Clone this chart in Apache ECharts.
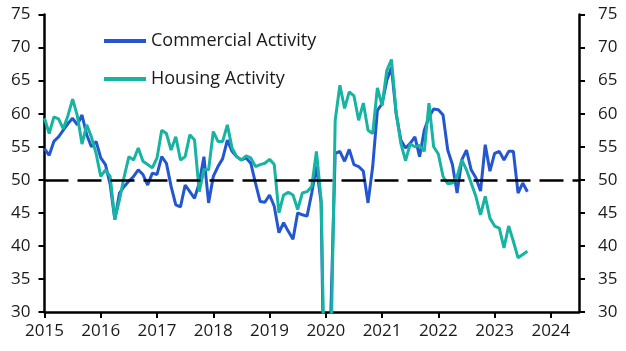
<!DOCTYPE html>
<html>
<head>
<meta charset="utf-8">
<script src="https://cdn.jsdelivr.net/npm/echarts@6/dist/echarts.min.js"></script>
<style>
  html, body { margin: 0; padding: 0; background: #fff; }
  #chart { width: 626px; height: 351px; }
</style>
</head>
<body>
<div id="chart"></div>
<script>
// monthly readings, Jan 2015 onwards
const START_YEAR = 2015;
const seriesNames = ["Commercial Activity", "Housing Activity"];

const commercial = [
  54.7, 53.7, 55.8, 56.5, 57.5, 58.5, 59.3, 58.3, 59.8, 56.8, 55.0, 55.8,
  53.3, 52.3, 49.3, 44.0, 48.0, 49.0, 49.8, 50.5, 51.5, 50.8, 49.2, 51.0,
  50.8, 53.5, 52.5, 49.0, 46.2, 45.9, 49.2, 48.2, 47.2, 49.5, 53.5, 46.5,
  50.5, 52.0, 53.2, 56.0, 54.3, 53.5, 53.0, 53.3, 52.5, 49.5, 46.7, 46.6,
  47.7, 46.0, 42.0, 43.5, 42.2, 41.0, 45.0, 44.7, 44.5, 48.0, 52.0, 46.5,
  0.0, 28.0, 54.0, 54.3, 52.8, 54.6, 52.3, 52.0, 51.3, 46.5, 52.0, 60.5,
  61.5, 65.0, 67.0, 60.0, 56.0, 54.8, 55.5, 56.5, 53.5, 57.5, 59.5, 60.7,
  60.6, 59.8, 54.5, 52.3, 48.0, 53.0, 54.5, 51.5, 50.3, 48.3, 55.3, 51.3,
  54.0, 54.3, 53.0, 54.3, 54.3, 48.0, 49.5, 48.2
];

const housing = [
  59.3, 57.0, 59.5, 59.2, 57.7, 59.7, 62.2, 59.7, 55.4, 58.3, 56.5, 54.0,
  50.5, 51.5, 50.5, 44.0, 47.0, 50.5, 53.5, 53.0, 54.8, 52.8, 52.3, 51.8,
  53.3, 57.5, 57.0, 54.5, 56.5, 53.0, 53.5, 56.8, 56.0, 48.2, 51.5, 51.5,
  57.3, 55.8, 55.8, 58.3, 54.8, 53.5, 53.0, 53.6, 53.3, 52.0, 52.3, 52.5,
  53.1, 52.3, 45.0, 47.7, 48.1, 47.7, 45.5, 48.0, 48.2, 49.0, 54.3, 47.0,
  9.0, 20.0, 59.0, 64.3, 60.8, 63.3, 62.7, 59.0, 61.6, 57.5, 57.0, 63.9,
  61.2, 66.5, 68.2, 60.2, 55.5, 52.9, 55.4, 55.0, 55.2, 54.3, 61.6, 55.0,
  53.9, 50.5, 49.4, 49.5, 50.5, 53.0, 51.5, 49.5, 47.5, 44.7, 47.5, 44.2,
  43.0, 42.7, 39.7, 43.0, 40.7, 38.2, 38.7, 39.2
];

const threshold = 50;

const FONT = "'Open Sans', sans-serif";
const TEXT_COLOR = "#1a1a1a";

const toPoints = (vals) => vals.map((v, i) => [START_YEAR + i / 12, v]);

const chart = echarts.init(document.getElementById("chart"), null, { renderer: "canvas" });

const yAxisBase = {
  type: "value",
  min: 30,
  max: 75,
  interval: 5,
  splitLine: { show: false },
  axisLine: { show: true, lineStyle: { color: "#000", width: 2.5 } },
  axisTick: { show: true, length: 6, lineStyle: { color: "#000", width: 2 } },
};

const option = {
  animation: false,
  backgroundColor: "#fff",
  grid: { left: 44.5, right: 47, top: 14.5, bottom: 39 },
  legend: {
    orient: "vertical",
    left: 104,
    top: 32,
    padding: 0,
    itemGap: 20,
    itemWidth: 42,
    itemHeight: 4,
    icon: "rect",
    data: seriesNames,
    textStyle: { color: TEXT_COLOR, fontSize: 18, fontFamily: FONT },
  },
  xAxis: {
    type: "value",
    min: 2015,
    max: 2024.5,
    interval: 1,
    splitLine: { show: false },
    axisLine: { show: true, lineStyle: { color: "#000", width: 2.5 } },
    axisTick: { show: true, length: 6, lineStyle: { color: "#000", width: 2 } },
    axisLabel: {
      color: TEXT_COLOR,
      fontSize: 17,
      fontFamily: FONT,
      margin: 11,
      showMaxLabel: false,
      formatter: (v) => String(Math.round(v)),
    },
  },
  yAxis: [
    Object.assign({}, yAxisBase, {
      position: "left",
      axisLabel: { color: TEXT_COLOR, fontSize: 17, fontFamily: FONT, margin: 14 },
    }),
    Object.assign({}, yAxisBase, {
      position: "right",
      axisLabel: { color: TEXT_COLOR, fontSize: 17, fontFamily: FONT, margin: 19 },
    }),
  ],
  series: [
    {
      name: seriesNames[0],
      type: "line",
      data: toPoints(commercial),
      showSymbol: false,
      symbol: "none",
      lineStyle: { color: "#2456CF", width: 3 },
      itemStyle: { color: "#2456CF" },
      markLine: {
        silent: true,
        symbol: "none",
        label: { show: false },
        lineStyle: { color: "#000", width: 2.5, type: [24, 9] },
        data: [{ yAxis: threshold }],
      },
      z: 2,
    },
    {
      name: seriesNames[1],
      type: "line",
      data: toPoints(housing),
      showSymbol: false,
      symbol: "none",
      lineStyle: { color: "#17B4A1", width: 3 },
      itemStyle: { color: "#17B4A1" },
      z: 3,
    },
  ],
};

chart.setOption(option);
</script>
</body>
</html>
